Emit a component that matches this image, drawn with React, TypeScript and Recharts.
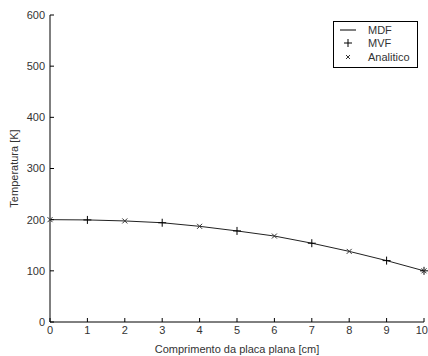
import React from 'react';
import { ComposedChart, Line, Scatter, XAxis, YAxis } from 'recharts';

// posição ao longo da placa [cm]
const xPos = [0, 1, 2, 3, 4, 5, 6, 7, 8, 9, 10];
// MDF - temperatura [K]
const mdfTemp = [200, 199.5, 197.5, 194, 187, 178, 168, 154, 138, 120, 100];
// MVF - pontos marcados com +
const mvfPos = [1, 3, 5, 7, 9, 10];
const mvfTemp = [199.5, 194, 178, 154, 120, 100];
// Analitico - pontos marcados com x
const anaPos = [0, 2, 4, 6, 8, 10];
const anaTemp = [200, 197.5, 187, 168, 138, 100];

const xTicks = [0, 1, 2, 3, 4, 5, 6, 7, 8, 9, 10];
const yTicks = [0, 100, 200, 300, 400, 500, 600];

const mdfData = xPos.map((x, i) => ({ x, t: mdfTemp[i] }));
const mvfData = mvfPos.map((x, i) => ({ x, t: mvfTemp[i] }));
const anaData = anaPos.map((x, i) => ({ x, t: anaTemp[i] }));

const FONT = '"Liberation Sans", Arial, sans-serif';
const TXT = '#333';

const PlusMark = (props: any) => {
  const { cx, cy } = props;
  return (
    <g stroke="#000" strokeWidth={1}>
      <line x1={cx - 4} y1={cy} x2={cx + 4} y2={cy} />
      <line x1={cx} y1={cy - 4} x2={cx} y2={cy + 4} />
    </g>
  );
};

const CrossMark = (props: any) => {
  const { cx, cy } = props;
  return (
    <g stroke="#333" strokeWidth={1}>
      <line x1={cx - 2.5} y1={cy - 2.5} x2={cx + 2.5} y2={cy + 2.5} />
      <line x1={cx - 2.5} y1={cy + 2.5} x2={cx + 2.5} y2={cy - 2.5} />
    </g>
  );
};

// rótulo do eixo x; o último ("10") fica encostado na borda direita
const XTick = (props: any) => {
  const { x, y, payload } = props;
  const last = payload.value === xTicks[xTicks.length - 1];
  return (
    <text
      x={last ? x + 4 : x}
      y={y}
      dy={10}
      textAnchor={last ? 'end' : 'middle'}
      fill={TXT}
      fontSize={11}
      fontFamily={FONT}
    >
      {payload.value}
    </text>
  );
};

const LegendBox = () => (
  <div
    style={{
      position: 'absolute',
      left: 333,
      top: 21,
      width: 85,
      height: 47,
      border: '1px solid #000',
      background: '#fff',
      boxSizing: 'border-box',
    }}
  >
    <svg width={83} height={45} style={{ position: 'absolute', left: 0, top: 0 }}>
      <line x1={6} y1={8} x2={22} y2={8} stroke="#000" />
      <line x1={10} y1={21} x2={18} y2={21} stroke="#000" />
      <line x1={14} y1={17} x2={14} y2={25} stroke="#000" />
      <line x1={12} y1={33} x2={16} y2={37} stroke="#333" />
      <line x1={12} y1={37} x2={16} y2={33} stroke="#333" />
      <text x={34} y={12} fill={TXT} fontSize={11} fontFamily={FONT}>MDF</text>
      <text x={34} y={25} fill={TXT} fontSize={11} fontFamily={FONT}>MVF</text>
      <text x={34} y={39} fill={TXT} fontSize={11} fontFamily={FONT}>Analitico</text>
    </svg>
  </div>
);

export default function App() {
  const noLabel = () => '';
  return (
    <div style={{ position: 'fixed', left: 0, top: 0, width: 428, height: 356, background: '#fff' }}>
      <ComposedChart
        width={428}
        height={356}
        margin={{ top: 15, right: 4, left: 0, bottom: 0 }}
        style={{ fontFamily: FONT }}
      >
        <XAxis
          xAxisId="b"
          type="number"
          dataKey="x"
          domain={[0, 10]}
          ticks={xTicks}
          interval={0}
          stroke="#000"
          tickSize={-4}
          tickMargin={6}
          tick={<XTick />}
          height={34}
          label={{ value: 'Comprimento da placa plana [cm]', position: 'insideBottom', offset: 3, fill: TXT, fontSize: 11 }}
        />
        <XAxis
          xAxisId="t"
          orientation="top"
          type="number"
          domain={[0, 10]}
          ticks={xTicks}
          interval={0}
          stroke="#000"
          tickSize={-4}
          tickFormatter={noLabel}
          height={0}
        />
        <YAxis
          yAxisId="l"
          type="number"
          domain={[0, 600]}
          ticks={yTicks}
          interval={0}
          stroke="#000"
          tickSize={-4}
          tickMargin={9}
          tick={{ fill: TXT, fontSize: 11 }}
          width={50}
          label={{ value: 'Temperatura [K]', angle: -90, position: 'insideLeft', offset: 14, fill: TXT, fontSize: 11, style: { textAnchor: 'middle' } }}
        />
        <YAxis
          yAxisId="r"
          orientation="right"
          type="number"
          domain={[0, 600]}
          ticks={yTicks}
          interval={0}
          stroke="#000"
          tickSize={-4}
          tickFormatter={noLabel}
          width={0}
        />
        <Line
          xAxisId="b"
          yAxisId="l"
          data={mdfData}
          dataKey="t"
          name="MDF"
          stroke="#222"
          strokeWidth={1}
          dot={false}
          type="linear"
          isAnimationActive={false}
        />
        <Scatter
          xAxisId="b"
          yAxisId="l"
          data={mvfData}
          dataKey="t"
          name="MVF"
          shape={<PlusMark />}
          isAnimationActive={false}
        />
        <Scatter
          xAxisId="b"
          yAxisId="l"
          data={anaData}
          dataKey="t"
          name="Analitico"
          shape={<CrossMark />}
          isAnimationActive={false}
        />
      </ComposedChart>
      <LegendBox />
    </div>
  );
}
